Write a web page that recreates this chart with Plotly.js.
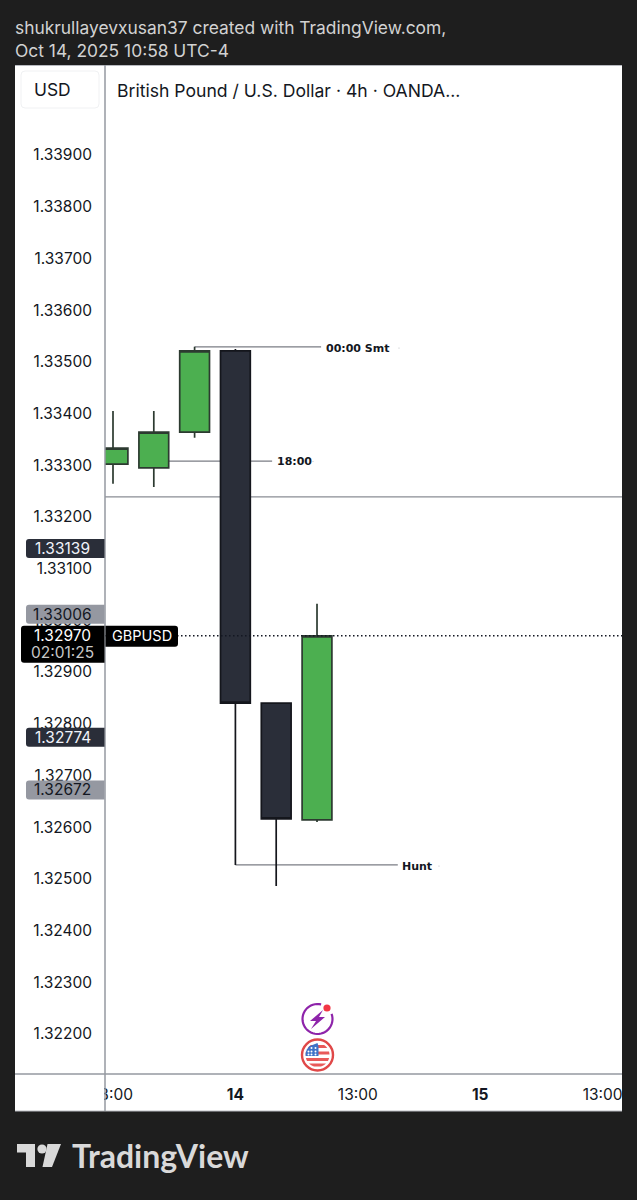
<!DOCTYPE html>
<html>
<head>
<meta charset="utf-8">
<script src="https://cdn.plot.ly/plotly-3.0.1.min.js"></script>
<style>html,body{margin:0;padding:0;background:#1e1e1e;overflow:hidden}</style>
</head>
<body>
<div id="chart" style="width:637px;height:1200px"></div>
<script>
// ---- data ----
const barIndex = [0, 1, 2, 3, 4, 5];
const opens  = [1.33302, 1.33295, 1.33364, 1.33521, 1.32840, 1.32614];
const highs  = [1.33405, 1.33405, 1.33529, 1.33525, 1.32840, 1.33032];
const lows   = [1.33264, 1.33258, 1.33353, 1.32527, 1.32486, 1.32610];
const closes = [1.33333, 1.33364, 1.33521, 1.32840, 1.32616, 1.32970];
const priceTicks = [1.339,1.338,1.337,1.336,1.335,1.334,1.333,1.332,1.331,1.330,1.329,1.328,1.327,1.326,1.325,1.324,1.323,1.322];
const timeTickIndex = [0, 3, 6, 9, 12];
const timeTickLabels = ['18:00', '<b>14</b>', '13:00', '<b>15</b>', '13:00'];
const lastPrice = 1.3297;
const horizontalLevel = 1.33239;
const levels = [
  {text: '00:00 Smt', price: 1.33529, from: 2, to: 5.1,  labelAt: 5.22},
  {text: '18:00',     price: 1.33308, from: 1, to: 3.9,  labelAt: 4.02},
  {text: 'Hunt',      price: 1.32527, from: 3, to: 6.98, labelAt: 7.08}
];
const levelLabelNudge = [-2, 0, -2];
const priceBadges = [
  {price: 1.33139, text: '1.33139', fill: '#2a2e39', ink: '#f0f3fa', shift: 0},
  {price: 1.33006, text: '1.33006', fill: '#9598a1', ink: '#131722', shift: 3},
  {price: 1.32774, text: '1.32774', fill: '#2a2e39', ink: '#f0f3fa', shift: 0},
  {price: 1.32672, text: '1.32672', fill: '#9598a1', ink: '#131722', shift: 0}
];

// ---- page geometry helpers ----
const W = 637, H = 1200, L = 105, R = 622, T = 65, B = 1074;
const FONT = 'Inter, "Open Sans", sans-serif';
const px = x => (x - L) / (R - L);
const py = y => (B - y) / (B - T);
const paper = {xref: 'paper', yref: 'paper'};
const rect = (x0, y0, x1, y1, fill, layer) => ({type: 'rect', ...paper, x0: px(x0), x1: px(x1), y0: py(y0), y1: py(y1), fillcolor: fill, line: {width: 0}, layer: layer || 'above'});
const seg = (x0, y0, x1, y1, color, width) => ({type: 'line', ...paper, x0: px(x0), x1: px(x1), y0: py(y0), y1: py(y1), line: {color, width}, layer: 'above'});
const poly = (pts, fill, close) => ({type: 'path', ...paper, layer: 'above', path: 'M' + pts.map(p => px(p[0]) + ' ' + py(p[1])).join(' L') + (close === false ? '' : ' Z'), fillcolor: fill, line: {width: 0}});
const circle = (cx, cy, r, fill, stroke, sw) => ({type: 'circle', ...paper, layer: 'above', x0: px(cx - r), x1: px(cx + r), y0: py(cy + r), y1: py(cy - r), fillcolor: fill, line: {color: stroke || fill, width: sw || 0}});
const rounded = (x0, y0, x1, y1, rl, rr, fill, stroke) => {
  const X = px, Y = py;
  const d = `M${X(x0+rl)} ${Y(y0)} L${X(x1-rr)} ${Y(y0)} Q${X(x1)} ${Y(y0)} ${X(x1)} ${Y(y0+rr)} L${X(x1)} ${Y(y1-rr)} Q${X(x1)} ${Y(y1)} ${X(x1-rr)} ${Y(y1)} L${X(x0+rl)} ${Y(y1)} Q${X(x0)} ${Y(y1)} ${X(x0)} ${Y(y1-rl)} L${X(x0)} ${Y(y0+rl)} Q${X(x0)} ${Y(y0)} ${X(x0+rl)} ${Y(y0)} Z`;
  return {type: 'path', ...paper, layer: 'above', path: d, fillcolor: fill, line: stroke ? {color: stroke, width: 1} : {width: 0}};
};
const text = (x, y, t, size, color, anchor, extra) => Object.assign({...paper, x: px(x), y: py(y), text: t, showarrow: false, xanchor: anchor || 'left', xshift: anchor ? 0 : -2, yanchor: 'middle', font: {family: FONT, size, color}}, extra || {});

const yRange = [1.321226, 1.340741];
const pixelY = p => T + (yRange[1] - p) / (yRange[1] - yRange[0]) * (B - T);

// ---- shapes ----
const shapes = [];
// white panel behind everything
shapes.push(rect(15, T, R, 1111, '#ffffff', 'below'));
// horizontal level and drawings, behind the candles
shapes.push({type: 'line', xref: 'paper', yref: 'y', x0: 0, x1: 1, y0: horizontalLevel, y1: horizontalLevel, line: {color: '#8a8d94', width: 1.2}, layer: 'below'});
levels.forEach(l => shapes.push({type: 'line', xref: 'x', yref: 'y', x0: l.from, x1: l.to, y0: l.price, y1: l.price, line: {color: '#7a7d84', width: 1.2}, layer: 'below'}));
// last price dotted line
shapes.push({type: 'line', xref: 'paper', yref: 'y', x0: 0, x1: 1, y0: lastPrice, y1: lastPrice, line: {color: '#131722', width: 1.5, dash: '1.5px,2.5px'}, layer: 'above'});
// clip the time labels at the panel edges
shapes.push(rect(15, 1076, 104, 1111, '#ffffff'));
shapes.push(rect(622, 1076, 637, 1111, '#1e1e1e'));
// panel edges and axis lines
shapes.push(seg(15, 65.5, 622, 65.5, '#b8bac0', 1));
shapes.push(seg(15, 1111, 622, 1111, '#b8bac0', 1));
shapes.push(seg(15, 1074, 622, 1074, '#9598a1', 1.5));
shapes.push(seg(105, 65, 105, 1111, '#9598a1', 1.5));
// USD button
shapes.push(rounded(21, 71, 99, 108, 4, 4, '#ffffff', '#f0f1f3'));
// price badges
priceBadges.forEach(b => {
  const c = pixelY(b.price) - b.shift;
  shapes.push(rounded(26, c - 9.5, 104.5, c + 9.5, 3, 0, b.fill));
});
const lastY = pixelY(lastPrice);
shapes.push(rounded(21, lastY - 10, 104.5, lastY + 27, 3, 0, '#000000'));
shapes.push(rounded(105.5, lastY - 10, 178, lastY + 11, 0, 3, '#000000'));
// faint tail dots of the labels
[[399, 348], [313, 461.5], [439, 866]].forEach(d => shapes.push(circle(d[0], d[1], 0.6, '#b9bbc0')));

// lightning icon
const icx = 317.5, icy = 1019;
const arc = [];
for (let a = -20; a <= 285; a += 8) arc.push([icx + 15 * Math.cos(a * Math.PI / 180), icy + 15 * Math.sin(a * Math.PI / 180)]);
shapes.push({type: 'path', ...paper, layer: 'above', path: 'M' + arc.map(p => px(p[0]) + ' ' + py(p[1])).join(' L'), line: {color: '#8e24aa', width: 2.2}});
shapes.push(poly([[323, 1010], [310, 1021], [316, 1021], [311, 1029], [325, 1017], [319, 1017]], '#8e24aa'));
shapes.push(circle(327, 1008, 3.6, '#f23645'));

// flag icon
const fx = 317.5, fy = 1055, fr = 12;
shapes.push(circle(fx, fy, 15.5, '#ffffff', '#e04848', 2.4));
const chord = (y0, y1, xMax, fill) => {
  const pts = [];
  for (let y = y0; y <= y1 + 0.01; y += (y1 - y0) / 4) {
    const half = Math.sqrt(Math.max(0, fr * fr - y * y));
    pts.push([fx - half, fy + y]);
  }
  for (let y = y1; y >= y0 - 0.01; y -= (y1 - y0) / 4) {
    const half = Math.sqrt(Math.max(0, fr * fr - y * y));
    pts.push([Math.min(fx + half, fx + xMax), fy + y]);
  }
  return poly(pts, fill);
};
[[-10, -7], [-3.5, -0.5], [3, 6], [8.5, 11.5]].forEach(s => shapes.push(chord(s[0], s[1], 99, '#e85a5a')));
shapes.push(chord(-12, 1, 1, '#3f73c8'));
[[-7, -7], [-3, -7], [-7, -3.5], [-3, -3.5], [-7, 0 - 0.5], [-3, -0.5], [-10, -3.5], [-10, -0.5]].forEach(d => shapes.push(circle(fx + d[0] + 1, fy + d[1], 1, '#ffffff')));

// TradingView logo mark
shapes.push(poly([[17, 1144], [35, 1144], [35, 1167], [26, 1167], [26, 1152.5], [17, 1152.5]], '#d9d9d9'));
shapes.push(circle(42, 1149, 4.6, '#d9d9d9'));
shapes.push(poly([[47.5, 1144], [61, 1144], [52, 1167], [42.5, 1167]], '#d9d9d9'));

// ---- annotations ----
const annotations = [
  text(15, 27, 'shukrullayevxusan37 created with TradingView.com,', 17.4, '#d2d2d2'),
  text(15, 51, 'Oct 14, 2025 10:58 UTC-4', 17.4, '#d2d2d2'),
  text(34, 89.5, 'USD', 17.4, '#131722'),
  text(62.5, lastY, '1.32970', 15.5, '#ffffff', 'center'),
  text(62.5, lastY + 16.5, '02:01:25', 15.5, '#c8c8c8', 'center'),
  text(141.5, lastY, 'GBPUSD', 14.5, '#ffffff', 'center'),
  {...paper, x: px(72), y: py(1155.5), xshift: -2, text: '<b>TradingView</b>', showarrow: false, xanchor: 'left', yanchor: 'middle', font: {family: 'Lato, Inter, sans-serif', size: 32, color: '#d9d9d9'}}
];
priceBadges.forEach(b => annotations.push(text(62.5, pixelY(b.price) - b.shift, b.text, 15.5, b.ink, 'center')));
levels.forEach((l, i) => annotations.push({xref: 'x', yref: 'y', x: l.labelAt, y: l.price, text: '<b>' + l.text + '</b>', showarrow: false, xanchor: 'left', yanchor: 'middle', xshift: -2, yshift: levelLabelNudge[i], font: {family: '"DejaVu Sans", sans-serif', size: 11, color: '#131722'}}));

// ---- chart ----
const candles = {
  type: 'candlestick', x: barIndex, open: opens, high: highs, low: lows, close: closes,
  whiskerwidth: 0,
  increasing: {fillcolor: '#4caf50', line: {color: '#2c3a30', width: 1.7}},
  decreasing: {fillcolor: '#2a2e39', line: {color: '#14161c', width: 1.7}},
  hoverinfo: 'skip'
};
const layout = {
  width: W, height: H, showlegend: false, dragmode: false, boxgap: 0.27, boxgroupgap: 0,
  paper_bgcolor: '#1e1e1e', plot_bgcolor: '#ffffff',
  margin: {l: L, r: W - R, t: T, b: H - B, pad: 0},
  title: {text: 'British Pound / U.S. Dollar · 4h · OANDA...', xref: 'container', yref: 'container', x: 117 / W, xanchor: 'left', y: 1 - 91 / H, yanchor: 'middle', font: {family: FONT, size: 17.6, color: '#131722'}},
  xaxis: {type: 'linear', range: [-0.196, 12.475], tickmode: 'array', tickvals: timeTickIndex, ticktext: timeTickLabels, ticks: '', showgrid: false, zeroline: false, showline: false, rangeslider: {visible: false}, ticklabelstandoff: 9, tickfont: {family: FONT, size: 15.5, color: '#131722'}},
  yaxis: {type: 'linear', range: yRange, tickmode: 'array', tickvals: priceTicks, tickformat: '.5f', ticks: '', showgrid: false, zeroline: false, showline: false, ticklabelstandoff: 12, tickfont: {family: FONT, size: 15.5, color: '#131722'}},
  shapes, annotations
};
Plotly.newPlot('chart', [candles], layout, {displayModeBar: false, staticPlot: true});
</script>
</body>
</html>
